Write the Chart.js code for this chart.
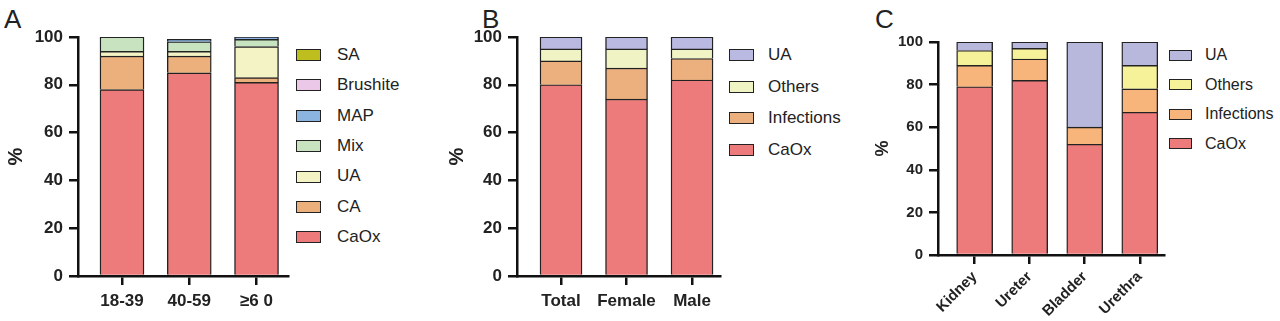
<!DOCTYPE html>
<html>
<head>
<meta charset="utf-8">
<script src="https://cdn.jsdelivr.net/npm/chart.js@4"></script>
<style>
  body { margin: 0; background: #fff; width: 1280px; height: 321px; position: relative; overflow: hidden;
         font-family: "Liberation Sans", Arial, "Noto Sans CJK SC", sans-serif; }
  canvas { position: absolute; top: 0; }
  .letter { position: absolute; top: 4px; font-size: 26px; color: #222; }
  .legend { position: absolute; color: #222; }
  .legend .item { position: absolute; white-space: nowrap; }
  .legend .box { position: absolute; box-sizing: border-box; border: 1.5px solid #222; }
</style>
</head>
<body>
<div class="letter" style="left:4px">A</div>
<div class="letter" style="left:482px">B</div>
<div class="letter" style="left:875px">C</div>
<canvas id="chartA" width="290" height="321" style="left:0px"></canvas>
<canvas id="chartB" width="282" height="321" style="left:440px"></canvas>
<canvas id="chartC" width="296" height="321" style="left:870px"></canvas>
<div class="legend" id="legendA"></div>
<div class="legend" id="legendB"></div>
<div class="legend" id="legendC"></div>
<script>
// A: by age group
const ageLabels = ['18-39', '40-59', '≥6 0'];
const ageCaOx = [78, 85, 81];
const ageCA = [14, 7, 2];
const ageUA = [2, 2, 13];
const ageMix = [6, 4, 3];
const ageMAP = [0, 1, 1];
const ageBrushite = [0, 0, 0];
const ageSA = [0, 0, 0];

// B: by sex
const sexLabels = ['Total', 'Female', 'Male'];
const sexCaOx = [80, 74, 82];
const sexInfections = [10, 13, 9];
const sexOthers = [5, 8, 4];
const sexUA = [5, 5, 5];

// C: by location
const siteLabels = ['Kidney', 'Ureter', 'Bladder', 'Urethra'];
const siteCaOx = [79, 82, 52, 67];
const siteInfections = [10, 10, 8, 11];
const siteOthers = [7, 5, 0, 11];
const siteUA = [4, 3, 40, 11];

const yTicks = [0, 20, 40, 60, 80, 100];

function makePanel(id, labels, series, opt) {
    const datasets = series.map(s => ({
        label: s.name,
        data: s.values.map((v, i) => ({ x: i, y: v })),
        backgroundColor: s.color,
        borderColor: '#222',
        borderWidth: 1.4,
        borderSkipped: 'start',
        barThickness: opt.barWidth
    }));

    new Chart(document.getElementById(id), {
        type: 'bar',
        data: { datasets: datasets },
        options: {
            responsive: false,
            animation: false,
            events: [],
            layout: { autoPadding: false, padding: { top: opt.top, right: 2, left: 0, bottom: 0 } },
            plugins: { legend: { display: false }, tooltip: { enabled: false } },
            scales: {
                x: {
                    type: 'linear',
                    stacked: true,
                    offset: false,
                    min: opt.xmin,
                    max: opt.xmax,
                    afterBuildTicks: s => { s.ticks = labels.map((_, i) => ({ value: i })); },
                    afterFit: s => { s.height = 321 - opt.bottom; },
                    grid: { offset: false, drawOnChartArea: false, tickLength: 9, color: '#111', lineWidth: 2.5 },
                    border: { display: true, color: '#111', width: 2.5 },
                    ticks: {
                        color: '#222',
                        padding: opt.xPad,
                        minRotation: opt.rotate,
                        maxRotation: opt.rotate,
                        font: { size: opt.xFont, weight: 'bold', family: '"Liberation Sans", Arial, "Noto Sans CJK SC"' },
                        callback: v => labels[v]
                    }
                },
                y: {
                    stacked: true,
                    min: 0,
                    max: 100,
                    afterBuildTicks: s => { s.ticks = yTicks.map(v => ({ value: v })); },
                    afterFit: s => { s.width = opt.yWidth; },
                    grid: { drawOnChartArea: false, tickLength: 9, color: '#111', lineWidth: 2.5 },
                    border: { display: true, color: '#111', width: 2.5 },
                    ticks: {
                        color: '#222',
                        padding: 6,
                        font: { size: opt.yFont, weight: 'bold', family: '"Liberation Sans", Arial' }
                    },
                    title: {
                        display: true,
                        text: '%',
                        color: '#222',
                        padding: { top: opt.titlePad, bottom: 0 },
                        font: { size: opt.titleFont, weight: 'bold', family: '"Liberation Sans", Arial' }
                    }
                }
            }
        }
    });

    // legend, top entry = last series
    const legend = document.getElementById(opt.legendId);
    series.slice().reverse().forEach((s, i) => {
        const cy = 55 + i * opt.legendStep;
        const box = document.createElement('div');
        box.className = 'box';
        box.style.cssText = `left:${opt.legendX}px;top:${cy - opt.boxH / 2}px;width:${opt.boxW}px;height:${opt.boxH}px;background:${s.color}`;
        legend.appendChild(box);
        const item = document.createElement('div');
        item.className = 'item';
        item.textContent = s.name;
        item.style.cssText = `left:${opt.textX}px;top:${cy - opt.legendFont * 0.6}px;font-size:${opt.legendFont}px;line-height:${opt.legendFont * 1.2}px`;
        legend.appendChild(item);
    });
}

makePanel('chartA', ageLabels, [
    { name: 'CaOx', values: ageCaOx, color: '#ED7B7B' },
    { name: 'CA', values: ageCA, color: '#ECB07C' },
    { name: 'UA', values: ageUA, color: '#F3F3C5' },
    { name: 'Mix', values: ageMix, color: '#C8E3C0' },
    { name: 'MAP', values: ageMAP, color: '#8CB4E1' },
    { name: 'Brushite', values: ageBrushite, color: '#ECC8E8' },
    { name: 'SA', values: ageSA, color: '#BEBE1E' }
], { top: 37, bottom: 276, yWidth: 78, xmin: -0.654, xmax: 2.468, barWidth: 44, xFont: 17, yFont: 17,
     xPad: 6, rotate: 0, titlePad: 4, titleFont: 20,
     legendId: 'legendA', legendX: 296, textX: 337, legendStep: 30.4, boxW: 25, boxH: 12, legendFont: 17 });

makePanel('chartB', sexLabels, [
    { name: 'CaOx', values: sexCaOx, color: '#ED7B7B' },
    { name: 'Infections', values: sexInfections, color: '#EBB07E' },
    { name: 'Others', values: sexOthers, color: '#F0F3C4' },
    { name: 'UA', values: sexUA, color: '#B9B9E1' }
], { top: 37, bottom: 276, yWidth: 77, xmin: -0.672, xmax: 2.427, barWidth: 42, xFont: 17, yFont: 17,
     xPad: 6, rotate: 0, titlePad: 5, titleFont: 20,
     legendId: 'legendB', legendX: 729, textX: 768, legendStep: 31.7, boxW: 25, boxH: 12, legendFont: 17 });

makePanel('chartC', siteLabels, [
    { name: 'CaOx', values: siteCaOx, color: '#EE7B7B' },
    { name: 'Infections', values: siteInfections, color: '#F7B57B' },
    { name: 'Others', values: siteOthers, color: '#F6F29A' },
    { name: 'UA', values: siteUA, color: '#B8B8DC' }
], { top: 42, bottom: 255, yWidth: 68, xmin: -0.666, xmax: 3.44, barWidth: 36, xFont: 15, yFont: 15,
     xPad: 4, rotate: 45, titlePad: 2, titleFont: 18,
     legendId: 'legendC', legendX: 1169, textX: 1205, legendStep: 29.5, boxW: 23, boxH: 11, legendFont: 16 });
</script>
</body>
</html>
